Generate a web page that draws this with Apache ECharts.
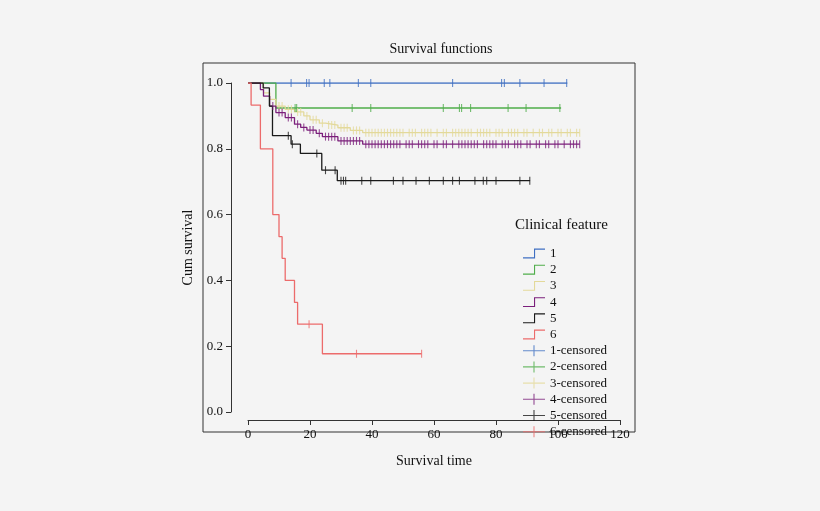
<!DOCTYPE html>
<html>
<head>
<meta charset="utf-8">
<script src="https://cdn.jsdelivr.net/npm/echarts@6/dist/echarts.min.js"></script>
<style>html,body{margin:0;background:#f4f4f4}#c{width:820px;height:511px}</style>
</head>
<body>
<div id="c"></div>
<script>
// step curves: [time, survival] change points
var steps1 = [[0, 1], [103, 1]];
var steps2 = [[0, 1], [9, 0.924], [101, 0.924]];
var steps3 = [[0, 1], [5, 0.97], [7, 0.95], [9, 0.93], [12, 0.92], [15, 0.912], [18, 0.9], [20, 0.888], [23, 0.878], [25, 0.872], [29, 0.864], [33, 0.856], [37, 0.849], [107, 0.849]];
var steps4 = [[0, 1], [4, 0.98], [5, 0.96], [7, 0.93], [9, 0.91], [12, 0.895], [15, 0.875], [17, 0.865], [19, 0.857], [22, 0.847], [24, 0.837], [29, 0.824], [37, 0.814], [107, 0.814]];
var steps5 = [[0, 1], [4.9, 0.985], [6.9, 0.93], [7.9, 0.84], [13.9, 0.814], [16.9, 0.786], [23.8, 0.735], [28.8, 0.703], [91, 0.703]];
var steps6 = [[0, 1], [1, 0.933], [4, 0.8], [8, 0.6], [10, 0.533], [11, 0.467], [12, 0.4], [15, 0.333], [16, 0.267], [24, 0.177], [56, 0.177]];

// censored times
var cens1 = [13.9, 18.9, 19.7, 24.6, 26.4, 35.6, 39.6, 66, 81.8, 82.7, 87.7, 95.5, 102.8];
var cens2 = [15.2, 15.7, 33.6, 39.6, 63, 68.2, 68.9, 71.8, 83.9, 89.7, 100.6];
var cens3 = [10, 11, 13, 14, 16, 17, 19, 21, 22, 24, 26, 27, 28, 30, 31, 32, 34, 35, 36, 38, 39, 40, 41, 42, 43, 44, 45, 46, 47, 48, 49, 50, 52, 53, 54, 56, 57, 58, 59, 61, 63, 64, 66, 67, 68, 69, 70, 71, 72, 74, 75, 76, 77, 78, 80, 81, 82, 84, 85, 86, 87, 89, 90, 92, 94, 95, 97, 98, 100, 101, 103, 104, 106, 107];
var cens4 = [8, 10, 11, 13, 14, 16, 18, 20, 21, 23, 25, 26, 27, 28, 30, 31, 32, 33, 34, 35, 36, 38, 39, 40, 41, 42, 43, 44, 45, 46, 47, 48, 49, 51, 52, 53, 55, 56, 57, 58, 60, 61, 63, 64, 66, 68, 69, 70, 71, 72, 73, 74, 76, 77, 78, 79, 80, 82, 83, 84, 86, 87, 88, 90, 91, 93, 94, 96, 97, 99, 100, 102, 104, 105, 106, 107];
var cens5 = [13, 14.3, 22.2, 25, 28.1, 30, 30.8, 31.5, 36.7, 39.6, 46.9, 50, 54.2, 58.5, 63, 66, 68.2, 73.2, 75.9, 77, 80, 87.7, 90.9];
var cens6 = [19.7, 35, 56];

var names = ['1', '2', '3', '4', '5', '6'];
var colors = ['#3f6fc2', '#4fad4a', '#e3d99a', '#7b1f7b', '#1a1a1a', '#ec6b6b'];
var allSteps = [steps1, steps2, steps3, steps4, steps5, steps6];
var allCens = [cens1, cens2, cens3, cens4, cens5, cens6];

function survAt(steps, t) {
  var s = steps[0][1];
  steps.forEach(function (p) { if (p[0] <= t) s = p[1]; });
  return s;
}

var series = [];
names.forEach(function (n, i) {
  series.push({
    name: n, type: 'line', step: 'end', data: allSteps[i], symbol: 'none',
    lineStyle: { color: colors[i], width: 1.3 }, itemStyle: { color: colors[i] }, z: 2 + i
  });
});
names.forEach(function (n, i) {
  series.push({
    name: n + '-censored', type: 'scatter',
    data: allCens[i].map(function (t) { return [t, survAt(allSteps[i], t)]; }),
    symbol: 'rect', symbolSize: [1.1, 8], symbolKeepAspect: false,
    itemStyle: { color: colors[i] }, z: 10 + i
  });
});

var font = 'Liberation Serif';
var chart = echarts.init(document.getElementById('c'));
chart.setOption({
  backgroundColor: '#f4f4f4',
  animation: false,
  textStyle: { fontFamily: font },
  title: { text: 'Survival functions', left: 436, top: 37, textAlign: 'center',
    textStyle: { fontFamily: font, fontSize: 14, fontWeight: 'normal', color: '#111' } },
  grid: { left: 248, right: 200, top: 83, bottom: 99 },
  xAxis: {
    type: 'value', min: 0, max: 120, interval: 20, offset: 8,
    name: 'Survival time', nameLocation: 'middle', nameGap: 34,
    nameTextStyle: { fontFamily: font, fontSize: 14, color: '#111' },
    axisLine: { onZero: false, lineStyle: { color: '#333' } }, axisTick: { lineStyle: { color: '#333' } },
    axisLabel: { fontFamily: font, fontSize: 13, color: '#111' },
    splitLine: { show: false }
  },
  yAxis: {
    type: 'value', min: 0, max: 1, interval: 0.2, offset: 17,
    name: 'Cum survival', nameLocation: 'middle', nameGap: 36,
    nameTextStyle: { fontFamily: font, fontSize: 14, color: '#111' },
    axisLine: { show: true, onZero: false, lineStyle: { color: '#333' } }, axisTick: { show: true, lineStyle: { color: '#333' } },
    axisLabel: { fontFamily: font, fontSize: 13, color: '#111', formatter: function (v) { return v.toFixed(1); } },
    splitLine: { show: false }
  },
  legend: {
    orient: 'vertical', left: 518, top: 242, itemGap: 3.2, itemWidth: 22, itemHeight: 11,
    textStyle: { fontFamily: font, fontSize: 13, color: '#111' },
    data: names.map(function (n) { return { name: n, icon: 'path://M0,9H10V1H20V2H11V10H0Z' }; })
      .concat(names.map(function (n) { return { name: n + '-censored', icon: 'path://M0,4.5H20V5.5H0ZM9.5,0H10.5V10H9.5Z' }; }))
  },
  graphic: [
    { type: 'rect', shape: { x: 203, y: 63, width: 432, height: 369 }, style: { fill: 'none', stroke: '#333', lineWidth: 1 }, silent: true },
    { type: 'text', left: 515, top: 218, style: { text: 'Clinical feature', font: '15px "Liberation Serif"', fill: '#111' } }
  ],
  series: series
});
</script>
</body>
</html>
